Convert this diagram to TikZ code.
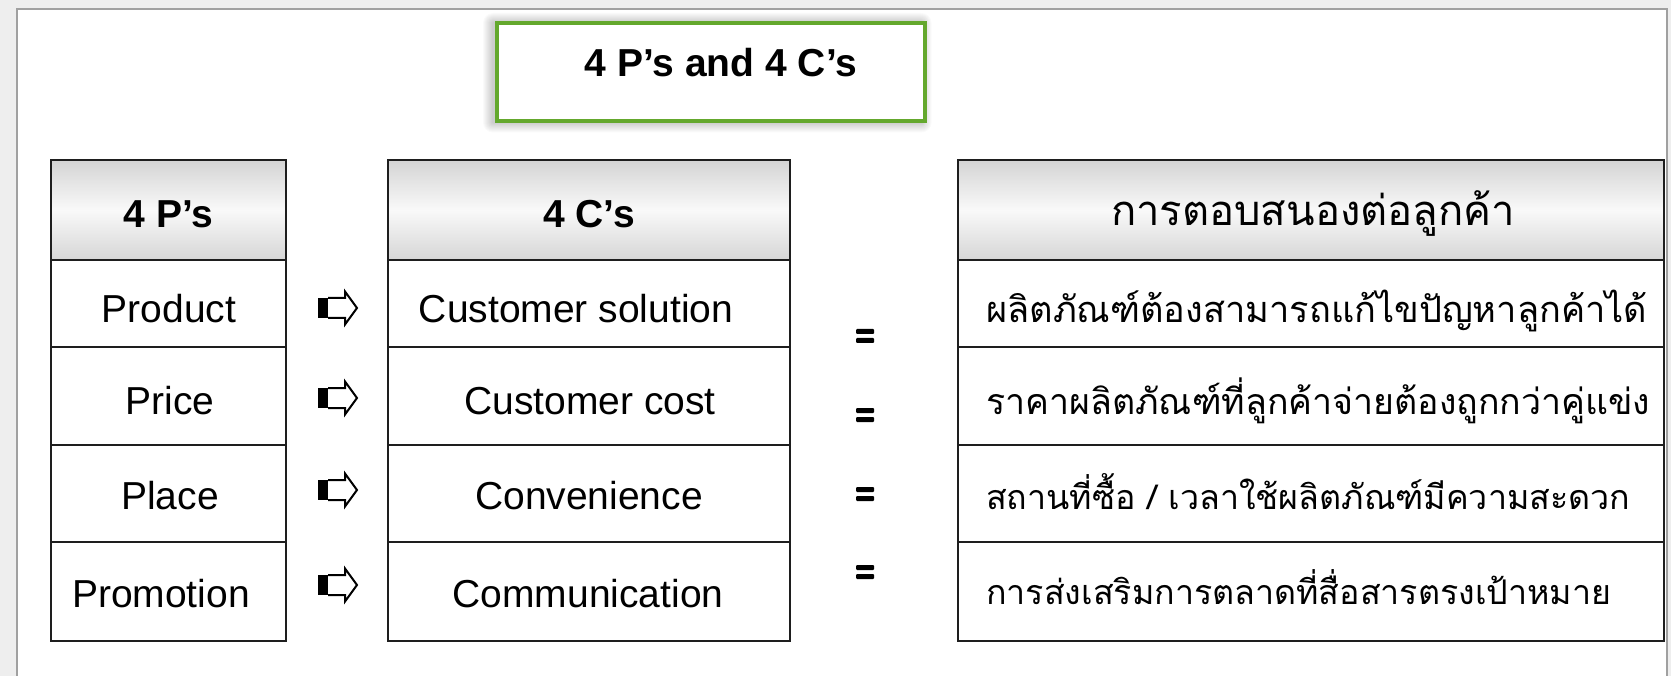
\documentclass[tikz,border=0pt]{standalone}
\usepackage{fontspec}
\usepackage{graphicx}
\setmainfont{Liberation Sans}
\newfontfamily\thaifont[Script=Thai]{Loma}
\definecolor{titlegreen}{RGB}{100,168,45}
\definecolor{bggray}{RGB}{238,238,238}
\definecolor{panelline}{RGB}{160,160,160}
\definecolor{gridline}{RGB}{30,30,30}
\definecolor{hdrtop}{RGB}{212,212,212}
\definecolor{hdrmid}{RGB}{249,249,249}
\definecolor{hdrbot}{RGB}{214,214,214}
\newcommand\thfit[2]{\resizebox{#1}{!}{\thaifont\fontsize{30}{36}\selectfont #2}}
\tikzset{
  cellbox/.style={draw=gridline, line width=2pt, fill=white, anchor=north west, inner sep=0pt, outer sep=0pt},
  hdrbox/.style={cellbox, top color=hdrtop, bottom color=hdrbot, middle color=hdrmid},
  entxt/.style={anchor=base, inner sep=0pt, font=\fontsize{39}{45}\selectfont},
  hdrtxt/.style={anchor=base, inner sep=0pt, font=\fontsize{39}{45}\selectfont\bfseries},
  thtxt/.style={anchor=base west, inner sep=0pt},
  titlebox/.style={draw=titlegreen, line width=4pt, fill=white, anchor=north west, inner sep=0pt},
  pics/hollowarrow/.style={code={
    \fill[black] (-19.5,-10) rectangle (-9.5,10);
    \draw[black, line width=2pt, fill=white, line join=miter]
      (-9.5,-10) -- (7.5,-10) -- (7.5,-16.5) -- (19.5,0) -- (7.5,16.5) -- (7.5,10) -- (-9.5,10);
  }},
  pics/eqsign/.style={code={
    \fill[black, rounded corners=1pt] (-9,-7) rectangle (9,-2);
    \fill[black, rounded corners=1pt] (-9,2) rectangle (9,7);
  }}
}
\begin{document}
\begin{tikzpicture}[x=1pt,y=-1pt]
\useasboundingbox (0,0) rectangle (1671,676);
\fill[bggray] (0,0) rectangle (1671,676);
\fill[white] (17,9) rectangle (1667,676);
\draw[panelline, line width=2.5pt] (17,676) -- (17,9) -- (1667,9) -- (1667,676);

% title with soft shadow
\foreach \i in {1,...,10}
  \fill[black, opacity=0.018, rounded corners=\i pt] (495-\i-2,21-\i+2) rectangle (922.5+\i-1,119.5+\i+3);
\node[titlebox, minimum width=427.5pt, minimum height=98.5pt] (title) at (495,21) {};
\node[hdrtxt] (titletext) at (721,77) {4 P’s and 4 C’s};

% column 4P's
\node[hdrbox, minimum width=235pt, minimum height=100pt] (pH) at (51,160) {};
\node[cellbox, minimum width=235pt, minimum height=87pt] (p1) at (51,260) {};
\node[cellbox, minimum width=235pt, minimum height=98pt] (p2) at (51,347) {};
\node[cellbox, minimum width=235pt, minimum height=97pt] (p3) at (51,445) {};
\node[cellbox, minimum width=235pt, minimum height=99pt] (p4) at (51,542) {};
% column 4C's
\node[hdrbox, minimum width=402pt, minimum height=100pt] (cH) at (388,160) {};
\node[cellbox, minimum width=402pt, minimum height=87pt] (c1) at (388,260) {};
\node[cellbox, minimum width=402pt, minimum height=98pt] (c2) at (388,347) {};
\node[cellbox, minimum width=402pt, minimum height=97pt] (c3) at (388,445) {};
\node[cellbox, minimum width=402pt, minimum height=99pt] (c4) at (388,542) {};
% column Thai
\node[hdrbox, minimum width=706pt, minimum height=100pt] (tH) at (958,160) {};
\node[cellbox, minimum width=706pt, minimum height=87pt] (t1) at (958,260) {};
\node[cellbox, minimum width=706pt, minimum height=98pt] (t2) at (958,347) {};
\node[cellbox, minimum width=706pt, minimum height=97pt] (t3) at (958,445) {};
\node[cellbox, minimum width=706pt, minimum height=99pt] (t4) at (958,542) {};

% header texts
\node[hdrtxt] (pHtxt) at (168.5,228) {4 P’s};
\node[hdrtxt] (cHtxt) at (589,228) {4 C’s};
\node[anchor=base, inner sep=0pt] (tHtxt) at (1313,226) {\thfit{404pt}{การตอบสนองต่อลูกค้า}};

% 4P texts
\node[entxt] (p1txt) at (169,323) {Product};
\node[entxt] (p2txt) at (170,414) {Price};
\node[entxt] (p3txt) at (170,509) {Place};
\node[entxt] (p4txt) at (161,607) {Promotion};
% 4C texts
\node[entxt] (c1txt) at (576,323) {Customer solution};
\node[entxt] (c2txt) at (590,414) {Customer cost};
\node[entxt] (c3txt) at (589,509) {Convenience};
\node[entxt] (c4txt) at (588,607) {Communication};
% Thai texts
\node[thtxt] (t1txt) at (986,323) {\thfit{661pt}{ผลิตภัณฑ์ต้องสามารถแก้ไขปัญหาลูกค้าได้}};
\node[thtxt] (t2txt) at (986,414) {\thfit{664pt}{ราคาผลิตภัณฑ์ที่ลูกค้าจ่ายต้องถูกกว่าคู่แข่ง}};
\node[thtxt] (t3txt) at (986,509) {\thfit{644pt}{สถานที่ซื้อ / เวลาใช้ผลิตภัณฑ์มีความสะดวก}};
\node[thtxt] (t4txt) at (986,604) {\thfit{625pt}{การส่งเสริมการตลาดที่สื่อสารตรงเป้าหมาย}};

% arrows between 4P and 4C
\pic (a1) at (337.5,308) {hollowarrow};
\pic (a2) at (337.5,398) {hollowarrow};
\pic (a3) at (337.5,490) {hollowarrow};
\pic (a4) at (337.5,585) {hollowarrow};
% equals signs
\pic (e1) at (865,336) {eqsign};
\pic (e2) at (865,415) {eqsign};
\pic (e3) at (865,494) {eqsign};
\pic (e4) at (865,572) {eqsign};
\end{tikzpicture}
\end{document}
